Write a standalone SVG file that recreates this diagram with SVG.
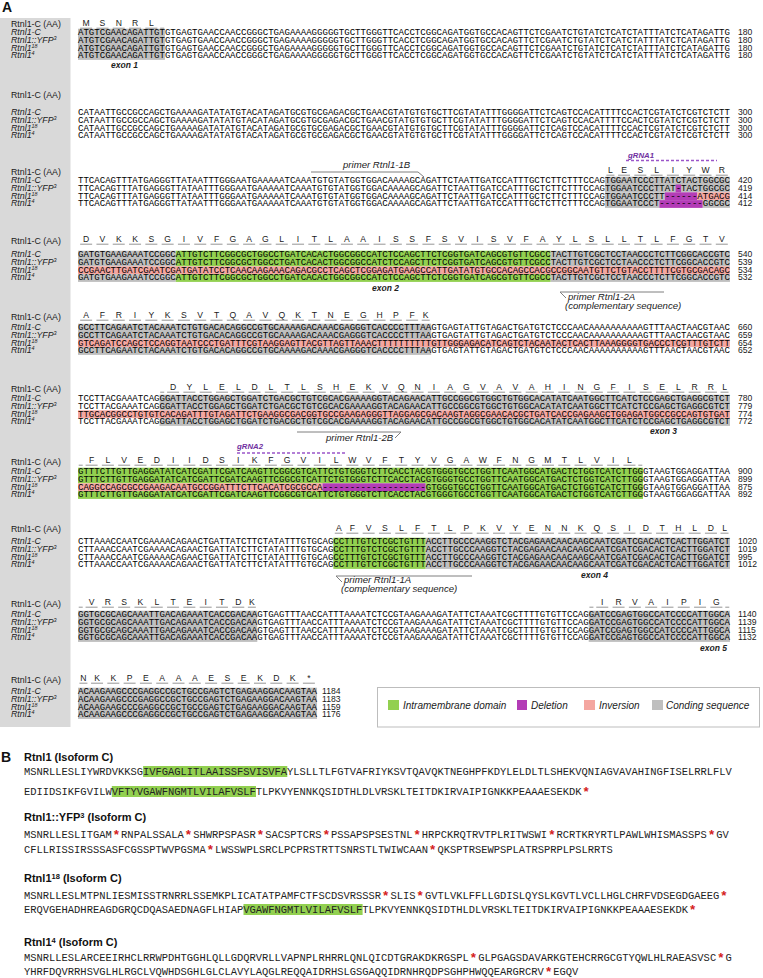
<svg xmlns="http://www.w3.org/2000/svg" width="763" height="978" viewBox="0 0 763 978">
<style>
.lbl{font-family:"Liberation Sans",Arial,sans-serif;font-size:8.8px;fill:#1a1a1a}
.it{font-style:italic}
.seq{font-family:"Liberation Mono","DejaVu Sans Mono",monospace;font-size:9.05px;fill:#000}
.num{font-family:"Liberation Sans",Arial,sans-serif;font-size:8.6px;fill:#1a1a1a}
.aa{font-family:"Liberation Sans",Arial,sans-serif;font-size:8.6px;fill:#1a1a1a;text-anchor:middle}
.ul{stroke:#8a8a8a;stroke-width:0.9;fill:none}
.cod{stroke-dasharray:12 4.299}
.g{fill:#bfbfbf}
.gr{fill:#92d050}
.pk{fill:#f4a6a0}
.pu{fill:#b33cb6}
.ann{font-family:"Liberation Sans",Arial,sans-serif;font-size:9.6px;font-style:italic;fill:#222}
.ex{font-family:"Liberation Sans",Arial,sans-serif;font-size:8.5px;font-style:italic;font-weight:bold;fill:#222}
.grna{font-family:"Liberation Sans",Arial,sans-serif;font-size:7.8px;font-style:italic;font-weight:bold;fill:#7030a0}
.gline{stroke:#9b55c9;stroke-width:1.3;stroke-dasharray:3 2;fill:none}
.pline{stroke:#7f7f7f;stroke-width:1;fill:none}
.hd{font-family:"Liberation Sans",Arial,sans-serif;font-size:11px;font-weight:bold;fill:#111}
.ps{font-family:"Liberation Mono","DejaVu Sans Mono",monospace;font-size:10.45px;fill:#222}
.st{fill:#d42020;font-weight:bold;font-size:13px}
.big{font-family:"Liberation Sans",Arial,sans-serif;font-size:14px;font-weight:bold;fill:#111}
.leg{font-family:"Liberation Sans",Arial,sans-serif;font-size:10px;font-style:italic;fill:#222}
</style>
<defs>
<g id="rowlabs">
<text class="lbl it" x="11" y="0">Rtnl1-C</text>
<text class="lbl it" x="11" y="7.8">Rtnl1::YFP<tspan font-size="5.4" dy="-3">3</tspan></text>
<text class="lbl it" x="11" y="15.6">Rtnl1<tspan font-size="5.4" dy="-3">18</tspan></text>
<text class="lbl it" x="11" y="23.4">Rtnl1<tspan font-size="5.4" dy="-3">4</tspan></text>
</g>
</defs>
<rect width="763" height="978" fill="#ffffff"/>
<text class="big" x="2" y="12">A</text>
<rect x="0" y="18" width="70.5" height="709" fill="#d9d9d9"/>

<g id="labels">
<text class="lbl" x="11" y="27">Rtnl1-C (AA)</text><use href="#rowlabs" y="35"/>
<text class="lbl" x="11" y="98">Rtnl1-C (AA)</text><use href="#rowlabs" y="115"/>
<text class="lbl" x="11" y="175">Rtnl1-C (AA)</text><use href="#rowlabs" y="183"/>
<text class="lbl" x="11" y="244">Rtnl1-C (AA)</text><use href="#rowlabs" y="257"/>
<text class="lbl" x="11" y="320">Rtnl1-C (AA)</text><use href="#rowlabs" y="330"/>
<text class="lbl" x="11" y="392">Rtnl1-C (AA)</text><use href="#rowlabs" y="401"/>
<text class="lbl" x="11" y="465">Rtnl1-C (AA)</text><use href="#rowlabs" y="474"/>
<text class="lbl" x="11" y="532">Rtnl1-C (AA)</text><use href="#rowlabs" y="544"/>
<text class="lbl" x="11" y="607">Rtnl1-C (AA)</text><use href="#rowlabs" y="617"/>
<text class="lbl" x="11" y="683">Rtnl1-C (AA)</text><use href="#rowlabs" y="694"/>
</g>

<g id="highlights">
<rect class="g" x="78" y="28.7" width="86.93" height="31.2"/>
<rect class="g" x="605" y="176.7" width="124.96" height="15.6"/>
<rect class="pu" x="675.63" y="184.5" width="5.433" height="7.8"/>
<rect class="g" x="605" y="192.3" width="59.76" height="7.8"/>
<rect class="pu" x="664.76" y="192.3" width="32.6" height="7.8"/>
<rect class="pk" x="697.36" y="192.3" width="32.6" height="7.8"/>
<rect class="g" x="605" y="200.1" width="54.33" height="7.8"/>
<rect class="pu" x="659.33" y="200.1" width="43.47" height="7.8"/>
<rect class="g" x="702.8" y="200.1" width="27.17" height="7.8"/>
<rect class="g" x="78" y="250.7" width="97.79" height="15.6"/>
<rect class="gr" x="175.79" y="250.7" width="374.88" height="15.6"/>
<rect class="g" x="550.67" y="250.7" width="179.29" height="15.6"/>
<rect class="pk" x="78" y="266.3" width="651.96" height="7.8"/>
<rect class="g" x="78" y="274.1" width="97.79" height="7.8"/>
<rect class="gr" x="175.79" y="274.1" width="374.88" height="7.8"/>
<rect class="g" x="550.67" y="274.1" width="179.29" height="7.8"/>
<rect class="g" x="78" y="323.7" width="353.15" height="15.6"/>
<rect class="pk" x="78" y="339.3" width="651.96" height="7.8"/>
<rect class="g" x="78" y="347.1" width="353.15" height="7.8"/>
<rect class="g" x="159.5" y="394.7" width="570.47" height="15.6"/>
<rect class="pk" x="78" y="410.3" width="651.96" height="7.8"/>
<rect class="g" x="159.5" y="418.1" width="570.47" height="7.8"/>
<rect class="gr" x="78" y="467.7" width="565.03" height="15.6"/>
<rect class="pk" x="78" y="483.3" width="244.49" height="7.8"/>
<rect class="pu" x="322.49" y="483.3" width="103.23" height="7.8"/>
<rect class="gr" x="425.71" y="483.3" width="217.32" height="7.8"/>
<rect class="gr" x="78" y="491.1" width="565.03" height="7.8"/>
<rect class="gr" x="333.35" y="537.7" width="92.36" height="31.2"/>
<rect class="g" x="425.71" y="537.7" width="304.25" height="31.2"/>
<rect class="g" x="78" y="610.7" width="179.29" height="31.2"/>
<rect class="g" x="588.7" y="610.7" width="141.26" height="31.2"/>
<rect class="g" x="78" y="687.7" width="239.05" height="31.2"/>
</g>

<g id="sequences">
<text class="seq" x="78" y="35" textLength="651.96" lengthAdjust="spacingAndGlyphs">ATGTCGAACAGATTGTGTGAGTGAACCAACCGGGCTGAGAAAAGGGGGTGCTTGGGTTCACCTCGGCAGATGGTGCCACAGTTCTCGAATCTGTATCTCATCTATTTATCTCATAGATTG</text>
<text class="seq" x="78" y="42.8" textLength="651.96" lengthAdjust="spacingAndGlyphs">ATGTCGAACAGATTGTGTGAGTGAACCAACCGGGCTGAGAAAAGGGGGTGCTTGGGTTCACCTCGGCAGATGGTGCCACAGTTCTCGAATCTGTATCTCATCTATTTATCTCATAGATTG</text>
<text class="seq" x="78" y="50.6" textLength="651.96" lengthAdjust="spacingAndGlyphs">ATGTCGAACAGATTGTGTGAGTGAACCAACCGGGCTGAGAAAAGGGGGTGCTTGGGTTCACCTCGGCAGATGGTGCCACAGTTCTCGAATCTGTATCTCATCTATTTATCTCATAGATTG</text>
<text class="seq" x="78" y="58.4" textLength="651.96" lengthAdjust="spacingAndGlyphs">ATGTCGAACAGATTGTGTGAGTGAACCAACCGGGCTGAGAAAAGGGGGTGCTTGGGTTCACCTCGGCAGATGGTGCCACAGTTCTCGAATCTGTATCTCATCTATTTATCTCATAGATTG</text>

<text class="seq" x="78" y="115" textLength="651.96" lengthAdjust="spacingAndGlyphs">CATAATTGCCGCCAGCTGAAAAGATATATGTACATAGATGCGTGCGAGACGCTGAACGTATGTGTGCTTCGTATATTTGGGGATTCTCAGTCCACATTTTCCACTCGTATCTCGTCTCTT</text>
<text class="seq" x="78" y="122.8" textLength="651.96" lengthAdjust="spacingAndGlyphs">CATAATTGCCGCCAGCTGAAAAGATATATGTACATAGATGCGTGCGAGACGCTGAACGTATGTGTGCTTCGTATATTTGGGGATTCTCAGTCCACATTTTCCACTCGTATCTCGTCTCTT</text>
<text class="seq" x="78" y="130.6" textLength="651.96" lengthAdjust="spacingAndGlyphs">CATAATTGCCGCCAGCTGAAAAGATATATGTACATAGATGCGTGCGAGACGCTGAACGTATGTGTGCTTCGTATATTTGGGGATTCTCAGTCCACATTTTCCACTCGTATCTCGTCTCTT</text>
<text class="seq" x="78" y="138.4" textLength="651.96" lengthAdjust="spacingAndGlyphs">CATAATTGCCGCCAGCTGAAAAGATATATGTACATAGATGCGTGCGAGACGCTGAACGTATGTGTGCTTCGTATATTTGGGGATTCTCAGTCCACATTTTCCACTCGTATCTCGTCTCTT</text>

<text class="seq" x="78" y="183" textLength="651.96" lengthAdjust="spacingAndGlyphs">TTCACAGTTTATGAGGGTTATAATTTGGGAATGAAAAATCAAATGTGTATGGTGGACAAAAGCAGATTCTAATTGATCCATTTGCTCTTCTTTCCAGTGGAATCCCTTATCTACTGGCGC</text>
<text class="seq" x="78" y="190.8" textLength="651.96" lengthAdjust="spacingAndGlyphs">TTCACAGTTTATGAGGGTTATAATTTGGGAATGAAAAATCAAATGTGTATGGTGGACAAAAGCAGATTCTAATTGATCCATTTGCTCTTCTTTCCAGTGGAATCCCTTAT-TACTGGCGC</text>
<text class="seq" x="78" y="198.6" textLength="651.96" lengthAdjust="spacingAndGlyphs">TTCACAGTTTATGAGGGTTATAATTTGGGAATGAAAAATCAAATGTGTATGGTGGACAAAAGCAGATTCTAATTGATCCATTTGCTCTTCTTTCCAGTGGAATCCCTT------ATGACG</text>
<text class="seq" x="78" y="206.4" textLength="651.96" lengthAdjust="spacingAndGlyphs">TTCACAGTTTATGAGGGTTATAATTTGGGAATGAAAAATCAAATGTGTATGGTGGACAAAAGCAGATTCTAATTGATCCATTTGCTCTTCTTTCCAGTGGAATCCCT--------GGCGC</text>

<text class="seq" x="78" y="257" textLength="651.96" lengthAdjust="spacingAndGlyphs">GATGTGAAGAAATCCGGCATTGTCTTCGGCGCTGGCCTGATCACACTGGCGGCCATCTCCAGCTTCTCGGTGATCAGCGTGTTCGCCTACTTGTCGCTCCTAACCCTCTTCGGCACCGTC</text>
<text class="seq" x="78" y="264.8" textLength="651.96" lengthAdjust="spacingAndGlyphs">GATGTGAAGAAATCCGGCATTGTCTTCGGCGCTGGCCTGATCACACTGGCGGCCATCTCCAGCTTCTCGGTGATCAGCGTGTTCGCCTACTTGTCGCTCCTAACCCTCTTCGGCACCGTC</text>
<text class="seq" x="78" y="272.6" textLength="651.96" lengthAdjust="spacingAndGlyphs">CCGAACTTGATCGAATCGATGATATCCTCAACAAGAAACAGACGCCTCAGCTCGGAGATGAAGCCATTGATATGTGCCACAGCCACGCCGGCAATGTTCTGTACCTTTTCGTGCGACAGC</text>
<text class="seq" x="78" y="280.4" textLength="651.96" lengthAdjust="spacingAndGlyphs">GATGTGAAGAAATCCGGCATTGTCTTCGGCGCTGGCCTGATCACACTGGCGGCCATCTCCAGCTTCTCGGTGATCAGCGTGTTCGCCTACTTGTCGCTCCTAACCCTCTTCGGCACCGTC</text>

<text class="seq" x="78" y="330" textLength="651.96" lengthAdjust="spacingAndGlyphs">GCCTTCAGAATCTACAAATCTGTGACACAGGCCGTGCAAAAGACAAACGAGGGTCACCCCTTTAAGTGAGTATTGTAGACTGATGTCTCCCAACAAAAAAAAAAGTTTAACTAACGTAAC</text>
<text class="seq" x="78" y="337.8" textLength="651.96" lengthAdjust="spacingAndGlyphs">GCCTTCAGAATCTACAAATCTGTGACACAGGCCGTGCAAAAGACAAACGAGGGTCACCCCTTTAAGTGAGTATTGTAGACTGATGTCTCCCAACAAAAAAAAAAGTTTAACTAACGTAAC</text>
<text class="seq" x="78" y="345.6" textLength="651.96" lengthAdjust="spacingAndGlyphs">GTCAGATCCAGCTCCAGGTAATCCCTGATTTCGTAAGGAGTTACGTTAGTTAAACTTTTTTTTTTGTTGGGAGACATCAGTCTACAATACTCACTTAAAGGGGTGACCCTCGTTTGTCTT</text>
<text class="seq" x="78" y="353.4" textLength="651.96" lengthAdjust="spacingAndGlyphs">GCCTTCAGAATCTACAAATCTGTGACACAGGCCGTGCAAAAGACAAACGAGGGTCACCCCTTTAAGTGAGTATTGTAGACTGATGTCTCCCAACAAAAAAAAAAGTTTAACTAACGTAAC</text>

<text class="seq" x="78" y="401" textLength="651.96" lengthAdjust="spacingAndGlyphs">TCCTTACGAAATCAGGGATTACCTGGAGCTGGATCTGACGCTGTCGCACGAAAAGGTACAGAACATTGCCGGCGTGGCTGTGGCACATATCAATGGCTTCATCTCCGAGCTGAGGCGTCT</text>
<text class="seq" x="78" y="408.8" textLength="651.96" lengthAdjust="spacingAndGlyphs">TCCTTACGAAATCAGGGATTACCTGGAGCTGGATCTGACGCTGTCGCACGAAAAGGTACAGAACATTGCCGGCGTGGCTGTGGCACATATCAATGGCTTCATCTCCGAGCTGAGGCGTCT</text>
<text class="seq" x="78" y="416.6" textLength="651.96" lengthAdjust="spacingAndGlyphs">TTGCACGGCCTGTGTCACAGATTTGTAGATTCTGAAGGCGACGGTGCCGAAGAGGGTTAGGAGCGACAAGTAGGCGAACACGCTGATCACCGAGAAGCTGGAGATGGCCGCCAGTGTGAT</text>
<text class="seq" x="78" y="424.4" textLength="651.96" lengthAdjust="spacingAndGlyphs">TCCTTACGAAATCAGGGATTACCTGGAGCTGGATCTGACGCTGTCGCACGAAAAGGTACAGAACATTGCCGGCGTGGCTGTGGCACATATCAATGGCTTCATCTCCGAGCTGAGGCGTCT</text>

<text class="seq" x="78" y="474" textLength="651.96" lengthAdjust="spacingAndGlyphs">GTTTCTTGTTGAGGATATCATCGATTCGATCAAGTTCGGCGTCATTCTGTGGGTCTTCACCTACGTGGGTGCCTGGTTCAATGGCATGACTCTGGTCATCTTGGGTAAGTGGAGGATTAA</text>
<text class="seq" x="78" y="481.8" textLength="651.96" lengthAdjust="spacingAndGlyphs">GTTTCTTGTTGAGGATATCATCGATTCGATCAAGTTCGGCGTCATTCTGTGGGTCTTCACCTACGTGGGTGCCTGGTTCAATGGCATGACTCTGGTCATCTTGGGTAAGTGGAGGATTAA</text>
<text class="seq" x="78" y="489.6" textLength="651.96" lengthAdjust="spacingAndGlyphs">CAGGCCAGCGCCGAAGACAATGCCGGATTTCTTCACATCGCGCCA-------------------GTGGGTGCCTGGTTCAATGGCATGACTCTGGTCATCTTGGGTAAGTGGAGGATTAA</text>
<text class="seq" x="78" y="497.4" textLength="651.96" lengthAdjust="spacingAndGlyphs">GTTTCTTGTTGAGGATATCATCGATTCGATCAAGTTCGGCGTCATTCTGTGGGTCTTCACCTACGTGGGTGCCTGGTTCAATGGCATGACTCTGGTCATCTTGGGTAAGTGGAGGATTAA</text>

<text class="seq" x="78" y="544" textLength="651.96" lengthAdjust="spacingAndGlyphs">CTTAAACCAATCGAAAACAGAACTGATTATCTTCTATATTTGTGCAGCCTTTGTCTCGCTGTTTACCTTGCCCAAGGTCTACGAGAACAACAAGCAATCGATCGACACTCACTTGGATCT</text>
<text class="seq" x="78" y="551.8" textLength="651.96" lengthAdjust="spacingAndGlyphs">CTTAAACCAATCGAAAACAGAACTGATTATCTTCTATATTTGTGCAGCCTTTGTCTCGCTGTTTACCTTGCCCAAGGTCTACGAGAACAACAAGCAATCGATCGACACTCACTTGGATCT</text>
<text class="seq" x="78" y="559.6" textLength="651.96" lengthAdjust="spacingAndGlyphs">CTTAAACCAATCGAAAACAGAACTGATTATCTTCTATATTTGTGCAGCCTTTGTCTCGCTGTTTACCTTGCCCAAGGTCTACGAGAACAACAAGCAATCGATCGACACTCACTTGGATCT</text>
<text class="seq" x="78" y="567.4" textLength="651.96" lengthAdjust="spacingAndGlyphs">CTTAAACCAATCGAAAACAGAACTGATTATCTTCTATATTTGTGCAGCCTTTGTCTCGCTGTTTACCTTGCCCAAGGTCTACGAGAACAACAAGCAATCGATCGACACTCACTTGGATCT</text>

<text class="seq" x="78" y="617" textLength="651.96" lengthAdjust="spacingAndGlyphs">GGTGCGCAGCAAATTGACAGAAATCACCGACAAGTGAGTTTAACCATTTAAAATCTCCGTAAGAAAGATATTCTAAATCGCTTTTGTGTTCCAGGATCCGAGTGGCCATCCCCATTGGCA</text>
<text class="seq" x="78" y="624.8" textLength="651.96" lengthAdjust="spacingAndGlyphs">GGTGCGCAGCAAATTGACAGAAATCACCGACAAGTGAGTTTAACCATTTAAAATCTCCGTAAGAAAGATATTCTAAATCGCTTTTGTGTTCCAGGATCCGAGTGGCCATCCCCATTGGCA</text>
<text class="seq" x="78" y="632.6" textLength="651.96" lengthAdjust="spacingAndGlyphs">GGTGCGCAGCAAATTGACAGAAATCACCGACAAGTGAGTTTAACCATTTAAAATCTCCGTAAGAAAGATATTCTAAATCGCTTTTGTGTTCCAGGATCCGAGTGGCCATCCCCATTGGCA</text>
<text class="seq" x="78" y="640.4" textLength="651.96" lengthAdjust="spacingAndGlyphs">GGTGCGCAGCAAATTGACAGAAATCACCGACAAGTGAGTTTAACCATTTAAAATCTCCGTAAGAAAGATATTCTAAATCGCTTTTGTGTTCCAGGATCCGAGTGGCCATCCCCATTGGCA</text>

<text class="seq" x="78" y="694" textLength="239.05" lengthAdjust="spacingAndGlyphs">ACAAGAAGCCCGAGGCCGCTGCCGAGTCTGAGAAGGACAAGTAA</text>
<text class="seq" x="78" y="701.8" textLength="239.05" lengthAdjust="spacingAndGlyphs">ACAAGAAGCCCGAGGCCGCTGCCGAGTCTGAGAAGGACAAGTAA</text>
<text class="seq" x="78" y="709.6" textLength="239.05" lengthAdjust="spacingAndGlyphs">ACAAGAAGCCCGAGGCCGCTGCCGAGTCTGAGAAGGACAAGTAA</text>
<text class="seq" x="78" y="717.4" textLength="239.05" lengthAdjust="spacingAndGlyphs">ACAAGAAGCCCGAGGCCGCTGCCGAGTCTGAGAAGGACAAGTAA</text>
</g>

<g id="numbers" class="num">
<text x="738" y="35">180</text><text x="738" y="42.8">180</text><text x="738" y="50.6">180</text><text x="738" y="58.4">180</text>
<text x="738" y="115">300</text><text x="738" y="122.8">300</text><text x="738" y="130.6">300</text><text x="738" y="138.4">300</text>
<text x="738" y="183">420</text><text x="738" y="190.8">419</text><text x="738" y="198.6">414</text><text x="738" y="206.4">412</text>
<text x="738" y="257">540</text><text x="738" y="264.8">539</text><text x="738" y="272.6">534</text><text x="738" y="280.4">532</text>
<text x="738" y="330">660</text><text x="738" y="337.8">659</text><text x="738" y="345.6">654</text><text x="738" y="353.4">652</text>
<text x="738" y="401">780</text><text x="738" y="408.8">779</text><text x="738" y="416.6">774</text><text x="738" y="424.4">772</text>
<text x="738" y="474">900</text><text x="738" y="481.8">899</text><text x="738" y="489.6">875</text><text x="738" y="497.4">892</text>
<text x="738" y="544">1020</text><text x="738" y="551.8">1019</text><text x="738" y="559.6">995</text><text x="738" y="567.4">1012</text>
<text x="738" y="617">1140</text><text x="738" y="624.8">1139</text><text x="738" y="632.6">1115</text><text x="738" y="640.4">1132</text>
<text x="322" y="694">1184</text><text x="322" y="701.8">1183</text><text x="322" y="709.6">1159</text><text x="322" y="717.4">1176</text>
</g>

<g id="aminoacids">
<text class="aa" x="86.15 102.45 118.75 135.05 151.35" y="26">MSNRL</text>
<text class="aa" x="610.43 624.02 640.32 656.61 672.91 689.21 705.51 721.81" y="173">LESLIYWR</text>
<text class="aa" x="86.15 102.45 118.75 135.05 151.35 167.65 183.94 200.24 216.54 232.84 249.14 265.44 281.74 298.04 314.34 330.64 346.93 363.23 379.53 395.83 412.13 428.43 444.73 461.03 477.33 493.63 509.92 526.22 542.52 558.82 575.12 591.42 607.72 624.02 640.32 656.62 672.91 689.21 705.51 721.81" y="242">DVKKSGIVFGAGLITLAAISSFSVISVFAYLSLLTLFGTV</text>
<text class="aa" x="86.15 102.45 118.75 135.05 151.35 167.65 183.94 200.24 216.54 232.84 249.14 265.44 281.74 298.04 314.34 330.64 346.93 363.23 379.53 395.83 412.13 425.71" y="318">AFRIYKSVTQAVQKTNEGHPFK</text>
<text class="aa" x="173.08 189.38 205.68 221.98 238.28 254.57 270.87 287.17 303.47 319.77 336.07 352.37 368.67 384.97 401.27 417.56 433.86 450.16 466.46 482.76 499.06 515.36 531.66 547.96 564.26 580.55 596.85 613.15 629.45 645.75 662.05 678.35 694.65 710.95 724.53" y="390">DYLELDLTLSHEKVQNIAGVAVAHINGFISELRRL</text>
<text class="aa" x="91.58 107.88 124.18 140.48 156.78 173.08 189.38 205.68 221.97 238.27 254.57 270.87 287.17 303.47 319.77 336.07 352.37 368.67 384.96 401.26 417.56 433.86 450.16 466.46 482.76 499.06 515.36 531.66 547.95 564.25 580.55 596.85 613.15 629.45" y="463">FLVEDIIDSIKFGVILWVFTYVGAWFNGMTLVIL</text>
<text class="aa" x="338.78 352.37 368.67 384.97 401.27 417.56 433.86 450.16 466.46 482.76 499.06 515.36 531.66 547.96 564.26 580.55 596.85 613.15 629.45 645.75 662.05 678.35 694.65 710.95 724.53" y="531">AFVSLFTLPKVYENNKQSIDTHLDL</text>
<text class="aa" x="91.58 107.88 124.18 140.48 156.78 173.08 189.38 205.68 221.97 238.27 251.86 602.28 618.58 634.88 651.18 667.48 683.78 700.07 716.37" y="605">VRSKLTEITDKIRVAIPIG</text>
<text class="aa" x="83.43 97.02 113.32 129.61 145.91 162.21 178.51 194.81 211.11 227.41 243.71 260.01 276.31 292.60 308.90" y="681">NKKPEAAAESEKDK*</text>
<g class="ul">
<line class="cod" x1="80.15" y1="28.2" x2="157.35" y2="28.2"/>
<line class="cod" x1="618.02" y1="175.2" x2="727.81" y2="175.2"/>
<line class="cod" x1="80.15" y1="244.2" x2="727.81" y2="244.2"/>
<line class="cod" x1="80.15" y1="320.2" x2="418.13" y2="320.2"/>
<line class="cod" x1="167.08" y1="392.2" x2="716.95" y2="392.2"/>
<line class="cod" x1="85.58" y1="465.2" x2="635.45" y2="465.2"/>
<line class="cod" x1="346.37" y1="533.2" x2="716.95" y2="533.2"/>
<line class="cod" x1="85.58" y1="607.2" x2="244.27" y2="607.2"/>
<line class="cod" x1="596.28" y1="607.2" x2="722.37" y2="607.2"/>
<line class="cod" x1="91.02" y1="683.2" x2="314.9" y2="683.2"/>
<path d="M160.21 28.2h4M606.43 175.2h8M421.71 320.2h8M160.21 392.2h4M720.53 392.2h8M78.72 465.2h4M638.32 465.2h4M334.78 533.2h8M720.53 533.2h8M78.72 607.2h4M247.86 607.2h8M589.42 607.2h4M725.25 607.2h4M79.43 683.2h8"/>
</g>
</g>

<g id="annotations">
<text class="ex" x="111" y="68">exon 1</text>
<text class="ex" x="372" y="291">exon 2</text>
<text class="ex" x="650" y="433.5">exon 3</text>
<text class="ex" x="581" y="577.5">exon 4</text>
<text class="ex" x="700" y="650.5">exon 5</text>
<text class="grna" x="628" y="157.5">gRNA1</text>
<path class="gline" d="M626 160.5H717"/>
<text class="grna" x="237" y="448.5">gRNA2</text>
<path class="gline" d="M237 453H345"/>
<path class="pline" d="M311 172H418l6 5"/>
<text class="ann" x="343" y="168">primer Rtnl1-1B</text>
<path class="pline" d="M566 298l-6-6H664"/>
<text class="ann" x="568" y="300">primer Rtnl1-2A</text>
<text class="ann" x="565" y="308.5">(complementary sequence)</text>
<path class="pline" d="M297 432H401l-6 6"/>
<text class="ann" x="326" y="441">primer Rtnl1-2B</text>
<path class="pline" d="M342 582l-6-6H472"/>
<text class="ann" x="344" y="583">primer Rtnl1-1A</text>
<text class="ann" x="341" y="592">(complementary sequence)</text>
</g>

<g id="legend">
<rect x="377.5" y="687.5" width="382" height="39.5" fill="#ffffff" stroke="#bdbdbd" stroke-width="1"/>
<rect class="gr" x="388" y="700" width="11" height="10"/>
<text class="leg" x="403" y="709">Intramembrane domain</text>
<rect class="pu" x="517" y="700" width="10" height="10"/>
<text class="leg" x="531" y="709">Deletion</text>
<rect class="pk" x="584" y="700" width="11" height="10"/>
<text class="leg" x="599" y="709">Inversion</text>
<rect class="g" x="652" y="700" width="11" height="10"/>
<text class="leg" x="666" y="709">Conding sequence</text>
</g>

<g id="partB">
<text class="big" x="1" y="762">B</text>
<text class="hd" x="24" y="761">Rtnl1 (Isoform C)</text>
<rect class="gr" x="143.1" y="766" width="144.2" height="11"/>
<text class="ps" x="24" y="774.5">MSNRLLESLIYWRDVKKSGIVFGAGLITLAAISSFSVISVFAYLSLLTLFGTVAFRIYKSVTQAVQKTNEGHPFKDYLELDLTLSHEKVQNIAGVAVAHINGFISELRRLFLV</text>
<rect class="gr" x="111.8" y="786" width="144.2" height="11"/>
<text class="ps" x="24" y="794.5">EDIIDSIKFGVILWVFTYVGAWFNGMTLVILAFVSLFTLPKVYENNKQSIDTHLDLVRSKLTEITDKIRVAIPIGNKKPEAAAESEKDK<tspan class="st" dx="0.8" dy="1">*</tspan></text>

<text class="hd" x="24" y="821">Rtnl1::YFP<tspan font-size="7.5" dy="-3.5">3</tspan><tspan dy="3.5"> (Isoform C)</tspan></text>
<text class="ps" x="24" y="837.5">MSNRLLESLITGAM<tspan class="st" dx="0.8" dy="1">*</tspan><tspan dx="0.8" dy="-1">RNPALSSALA</tspan><tspan class="st" dx="0.8" dy="1">*</tspan><tspan dx="0.8" dy="-1">SHWRPSPASR</tspan><tspan class="st" dx="0.8" dy="1">*</tspan><tspan dx="0.8" dy="-1">SACSPTCRS</tspan><tspan class="st" dx="0.8" dy="1">*</tspan><tspan dx="0.8" dy="-1">PSSAPSPSESTNL</tspan><tspan class="st" dx="0.8" dy="1">*</tspan><tspan dx="0.8" dy="-1">HRPCKRQTRVTPLRITWSWI</tspan><tspan class="st" dx="0.8" dy="1">*</tspan><tspan dx="0.8" dy="-1">RCRTKRYRTLPAWLWHISMASSPS</tspan><tspan class="st" dx="0.8" dy="1">*</tspan><tspan dx="0.8" dy="-1">GV</tspan></text>
<text class="ps" x="24" y="852.5">CFLLRISSIRSSSASFCGSSPTWVPGSMA<tspan class="st" dx="0.8" dy="1">*</tspan><tspan dx="0.8" dy="-1">LWSSWPLSRCLPCPRSTRTTSNRSTLTWIWCAAN</tspan><tspan class="st" dx="0.8" dy="1">*</tspan><tspan dx="0.8" dy="-1">QKSPTRSEWPSPLATRSPRPLPSLRRTS</tspan></text>

<text class="hd" x="24" y="882">Rtnl1<tspan font-size="7.5" dy="-3.5">18</tspan><tspan dy="3.5"> (Isoform C)</tspan></text>
<text class="ps" x="24" y="898.5">MSNRLLESLMTPNLIESMISSTRNRRLSSEMKPLICATATPAMFCTFSCDSVRSSSR<tspan class="st" dx="0.8" dy="1">*</tspan><tspan dx="0.8" dy="-1">SLIS</tspan><tspan class="st" dx="0.8" dy="1">*</tspan><tspan dx="0.8" dy="-1">GVTLVKLFFLLGDISLQYSLKGVTLVCLLHGLCHRFVDSEGDGAEEG</tspan><tspan class="st" dx="0.8" dy="1">*</tspan></text>
<rect class="gr" x="243.5" y="904" width="119.1" height="11"/>
<text class="ps" x="24" y="912.5">ERQVGEHADHREAGDGRQCDQASAEDNAGFLHIAPVGAWFNGMTLVILAFVSLFTLPKVYENNKQSIDTHLDLVRSKLTEITDKIRVAIPIGNKKPEAAAESEKDK<tspan class="st" dx="0.8" dy="1">*</tspan></text>

<text class="hd" x="24" y="946">Rtnl1<tspan font-size="7.5" dy="-3.5">4</tspan><tspan dy="3.5"> (Isoform C)</tspan></text>
<text class="ps" x="24" y="960.5">MSNRLLESLARCEEIRHCLRRWPDHTGGHLQLLGDQRVRLLVAPNPLRHRRLQNLQICDTGRAKDKRGSPL<tspan class="st" dx="0.8" dy="1">*</tspan><tspan dx="0.8" dy="-1">GLPGAGSDAVARKGTEHCRRGCGTYQWLHLRAEASVSC</tspan><tspan class="st" dx="0.8" dy="1">*</tspan><tspan dx="0.8" dy="-1">G</tspan></text>
<text class="ps" x="24" y="974.5">YHRFDQVRRHSVGLHLRGCLVQWHDSGHLGLCLAVYLAQGLREQQAIDRHSLGSGAQQIDRNHRQDPSGHPHWQQEARGRCRV<tspan class="st" dx="0.8" dy="1">*</tspan><tspan dx="0.8" dy="-1">EGQV</tspan></text>
</g>
</svg>
